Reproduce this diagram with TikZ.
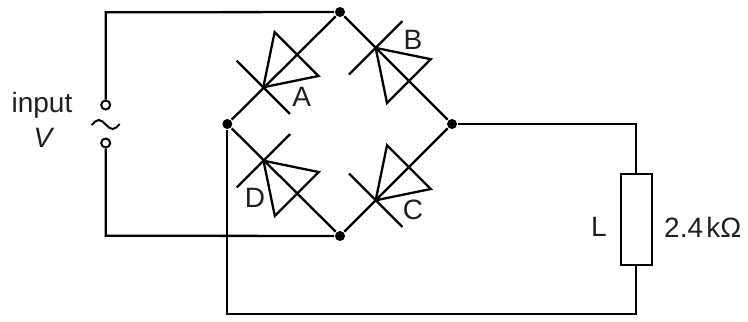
\documentclass[tikz,border=0pt]{standalone}
\usepackage{fontspec}
\setmainfont{Liberation Sans}
\begin{document}
\begin{tikzpicture}[x=0.5pt,y=-0.5pt,line width=1.15pt,
  dot/.style={circle,fill,inner sep=0pt,minimum size=5pt},
  term/.style={circle,draw,inner sep=0pt,minimum size=4.5pt,line width=1pt},
  lbl/.style={font=\fontsize{14}{16}\selectfont,inner sep=0pt,text=black!88},
  resbox/.style={draw,rectangle,inner sep=0pt,minimum width=15.5pt,minimum height=45.5pt},
  diode/.pic={
    \draw[line join=miter] (0,0) -- (47,31) -- (47,-31) -- cycle;
    \draw (0,-37.7) -- (0,37.7);
  }]
\useasboundingbox (0,0) rectangle (748,321);
% junctions
\node[dot] (T) at (340,12) {};
\node[dot] (L) at (227.3,124) {};
\node[dot] (R) at (452,124) {};
\node[dot] (B) at (340,236) {};
% bridge
\draw (L) -- (T) -- (R) -- (B) -- (L);
% diodes
\pic[rotate=45] at (263.3,87.3) {diode};
\pic[rotate=-45] at (375.7,47.9) {diode};
\pic[rotate=45] at (375.7,200.3) {diode};
\pic[rotate=-45] at (263.5,160.7) {diode};
\node[lbl] (la) at (301.7,96.7) {A};
\node[lbl] (lb) at (413,40) {B};
\node[lbl] (lc) at (413,210) {C};
\node[lbl] (ld) at (255,198) {D};
% input
\coordinate (TL) at (105.7,12.3);
\coordinate (BLin) at (105.7,235.7);
\node[term] (t1) at (105.7,105) {};
\node[term] (t2) at (105.7,143) {};
\draw (T) -- (TL) -- (t1);
\draw (t2) -- (BLin) -- (B);
\draw[line width=1pt] (91.7,125) sin (98.7,120) cos (105.7,124.5) sin (112.7,129) cos (119.7,124);
\node[lbl] (inp) at (42,105) {input};
\node[lbl] (vv) at (43,138) {\itshape V};
% load
\node[resbox] (Rl) at (636.3,219.5) {};
\node[lbl] (ll) at (599,227) {L};
\node[lbl] (lv) at (702.8,227) {2.4\kern0.12em kΩ};
\coordinate (BLo) at (227.3,314);
\coordinate (BRo) at (636.3,314);
\draw (R) -| (Rl.north);
\draw (L) -- (BLo) -- (BRo) -- (Rl.south);
\end{tikzpicture}
\end{document}
